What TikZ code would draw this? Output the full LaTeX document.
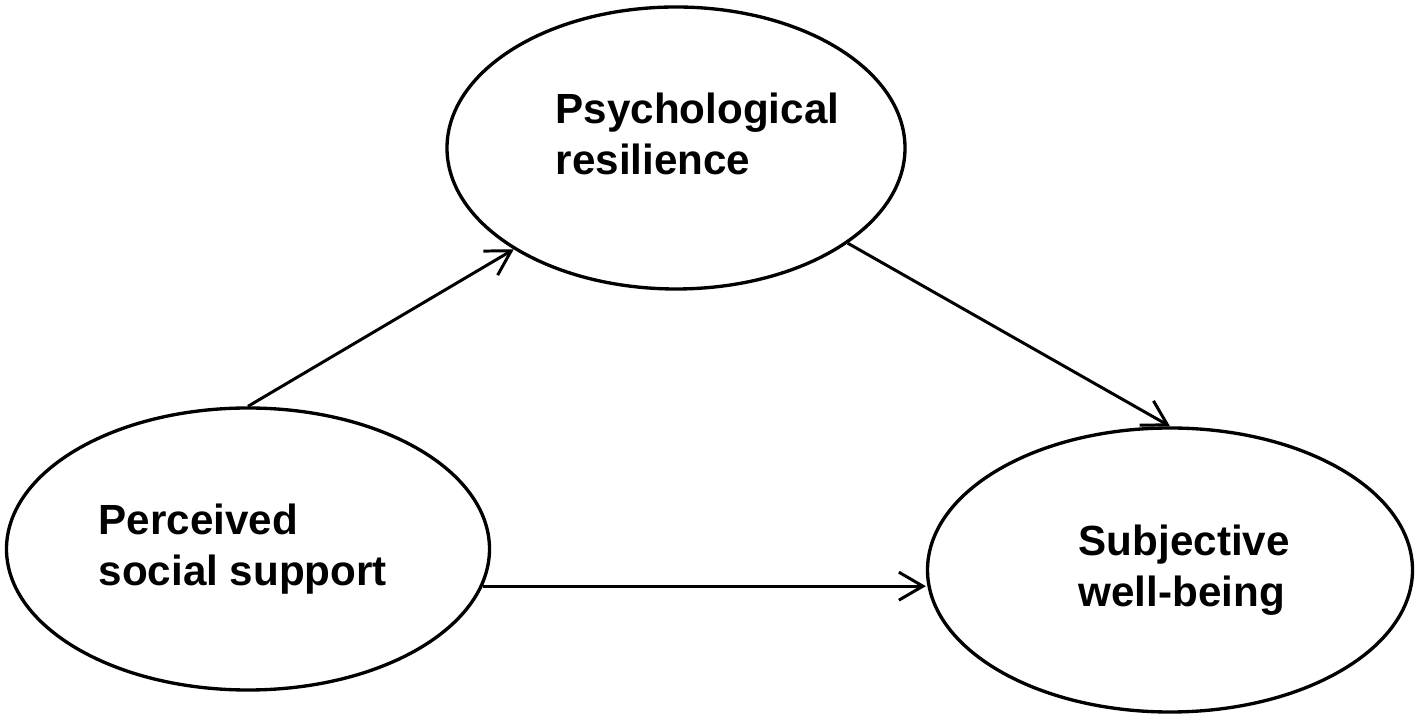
\documentclass[tikz,border=0pt]{standalone}
\usepackage{fontspec}
\setmainfont{Liberation Sans}
\usetikzlibrary{arrows.meta,shapes.geometric}

\begin{document}
\begin{tikzpicture}[
    oval/.style={ellipse,draw=black,line width=0.95pt,inner sep=0pt},
    lbl/.style={align=left,inner sep=0pt,anchor=west,
      font=\bfseries\fontsize{12}{14.5}\selectfont},
    arr/.style={-{Straight Barb[length=2.4mm,width=2.8mm]}, line width=0.85pt}]

  \useasboundingbox (0,0) rectangle (14.18,7.19);

  % the three constructs
  \node[oval,minimum width=4.58cm,minimum height=2.82cm] (psr) at (6.76,5.71) {};
  \node[oval,minimum width=4.83cm,minimum height=2.82cm] (pss) at (2.48,1.70) {};
  \node[oval,minimum width=4.85cm,minimum height=2.84cm] (swb) at (11.70,1.49) {};

  \node[lbl] (psrtext) at (5.55,5.85) {Psychological\\resilience};
  \node[lbl] (psstext) at (0.98,1.70) {Perceived\\social support};
  \node[lbl] (swbtext) at (10.78,1.49) {Subjective\\well-being};

  % paths
  \path (pss.north) edge[arr] (psr.212);
  \path (psr.331) edge[arr] (swb.north);
  \draw[arr] (pss.-9.5) -- (pss.-9.5 -| swb.west);

\end{tikzpicture}
\end{document}
